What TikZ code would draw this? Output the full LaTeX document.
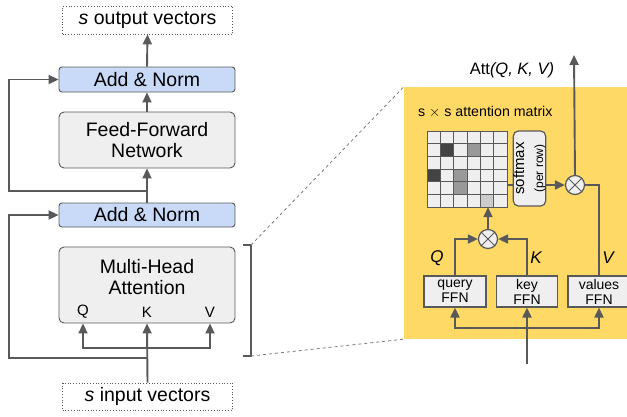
\documentclass[tikz,border=0pt]{standalone}
\usepackage{fontspec}
\setmainfont{Liberation Sans}
\usetikzlibrary{arrows.meta,shapes,positioning}

\definecolor{lineg}{HTML}{595959}
\definecolor{normblue}{HTML}{C9DAF8}
\definecolor{boxgray}{HTML}{EFEFEF}
\definecolor{panelyel}{HTML}{FFD966}
\definecolor{cdark}{HTML}{434343}
\definecolor{cmid}{HTML}{999999}
\definecolor{clight}{HTML}{CCCCCC}

\begin{document}
\begin{tikzpicture}[x=1pt, y=-1pt, >={Triangle[length=10pt,width=9pt]},
    every node/.style={font=\fontsize{19.5}{21}\selectfont, inner sep=0pt},
    conn/.style={draw=lineg, line width=1.9pt},
    vecbox/.style={draw=lineg, dotted, thick, minimum width=170, minimum height=28},
    normbox/.style={draw=lineg, fill=normblue, rounded corners=3pt, line width=0.9pt, minimum width=176, minimum height=25},
    layerbox/.style={draw=lineg, fill=boxgray, rounded corners=5pt, line width=0.9pt, minimum width=176, align=center},
    ffnbox/.style={draw=lineg, fill=boxgray, line width=1.2pt, minimum width=62, minimum height=31, align=center, font=\fontsize{14}{15}\selectfont},
    mult/.style={circle, draw=lineg, fill=boxgray, line width=1.2pt, minimum size=19},
    small/.style={font=\fontsize{15}{17}\selectfont}]
    \useasboundingbox (0,0) rectangle (627,416);

    % Encoder block
    \node[vecbox] (out) at (147.5,20) {\textit{s} output vectors};
    \node[normbox] (an2) at (147,79.5) {Add \& Norm};
    \node[layerbox, minimum height=56] (ffn) at (147,140) {Feed-Forward\\Network};
    \node[normbox, minimum height=24] (an1) at (147,215) {Add \& Norm};
    \node[layerbox, minimum height=76] (mha) at (147,285) {};
    \node[align=center] at (147,277) {Multi-Head\\Attention};
    \node[small] (qlab) at (83,312) {Q};
    \node[small] (klab) at (147,312) {K};
    \node[small] (vlab) at (210,312) {V};
    \node[vecbox, minimum height=27] (in) at (147.5,396.5) {\textit{s} input vectors};

    % Flow and residuals
    \coordinate (j2) at (147,191);
    \coordinate (bus) at (147,348);
    \coordinate (j1) at (147,358);
    \draw[conn, ->] (an2.north) -- (out.south);
    \draw[conn, ->] (ffn.north) -- (an2.south);
    \draw[conn, ->] (an1.north) -- (ffn.south);
    \draw[conn, ->] (j2) -- ++(-138,0) |- (an2.west);
    \draw[conn, ->] (in.north) -- (mha.south);
    \draw[conn, ->] (bus) -| (qlab.south |- mha.south);
    \draw[conn, ->] (bus) -| (vlab.south |- mha.south);
    \draw[conn, ->] (j1) -- ++(-138,0) |- (an1.west);

    % Zoom panel
    \node[fill=panelyel, minimum width=223, minimum height=252] (yel) at (515.5,213) {};
    \draw[lineg, line width=1.5pt] (243,245) -- (251,245) -- (251,356) -- (243,356);
    \draw[lineg!80, dashed, thick] (251,245) -- (yel.north west);
    \draw[lineg!80, dashed, thick] (251,356) -- (yel.south west);

    % Labels
    \node[small, font=\fontsize{16.5}{18}\selectfont] (att) at (512,70) {Att\textit{(Q, K, V)}};
    \node[small, font=\fontsize{14.2}{16}\selectfont, anchor=west] (mtitle) at (418,112) {s $\times$ s attention matrix};

    % Attention matrix
    \node[minimum width=80, minimum height=76] (attm) at (467,169) {};
    \foreach \r in {0,...,5}
      \foreach \c in {0,...,5}
        \draw[lineg, fill=boxgray, line width=0.8pt] (427+\c*13.33,131+\r*12.67) rectangle ++(13.33,12.67);
    \foreach \r/\c/\col in {1/1/cdark, 1/3/cmid, 3/0/cdark, 3/2/cmid, 4/2/cmid, 5/4/clight}
      \draw[lineg, fill=\col, line width=0.8pt] (427+\c*13.33,131+\r*12.67) rectangle ++(13.33,12.67);

    % Softmax and products
    \node[draw=lineg, fill=boxgray, rounded corners=5pt, line width=1.2pt, rotate=90,
          minimum width=75, minimum height=29, align=center] (soft) at (529.5,168.5)
          {{\fontsize{15}{14}\selectfont softmax}\\[-2pt]{\fontsize{12}{12}\selectfont (per row)}};
    \node[mult] (m1) at (575,185) {};
    \draw[lineg, thick] (m1.north east) -- (m1.south west) (m1.north west) -- (m1.south east);
    \node[mult] (m2) at (488,239) {};
    \draw[lineg, thick] (m2.north east) -- (m2.south west) (m2.north west) -- (m2.south east);

    % FFNs
    \node[ffnbox] (qffn) at (455,291.5) {query\\FFN};
    \node[ffnbox, minimum width=61] (kffn) at (527,291.5) {key\\FFN};
    \node[ffnbox] (vffn) at (599,291.5) {values\\FFN};
    \node[font=\fontsize{17}{18}\selectfont\itshape] (qname) at (437,258) {Q};
    \node[font=\fontsize{17}{18}\selectfont\itshape] (kname) at (536,258) {K};
    \node[font=\fontsize{17}{18}\selectfont\itshape] (vname) at (608,258) {V};

    % Panel connectors
    \coordinate (attout) at (574,55);
    \coordinate (rbus) at (527,328);
    \coordinate (rin) at (527,364);
    \draw[conn] (attm.east |- m1) -- (soft.north |- m1);
    \draw[conn, ->] (soft.south |- m1) -- (m1.west);
    \draw[conn, ->] (m1.north) -- (attout);
    \draw[conn] (m1.east) -| (vffn.north);
    \draw[conn, ->] (m2.north) -- (m2 |- attm.south);
    \draw[conn, ->] (qffn.north) |- (m2.west);
    \draw[conn, ->] (kffn.north) |- (m2.east);
    \draw[conn, ->] (rin) -- (kffn.south);
    \draw[conn, ->] (rbus) -| (qffn.south);
    \draw[conn, ->] (rbus) -| (vffn.south);
\end{tikzpicture}
\end{document}
